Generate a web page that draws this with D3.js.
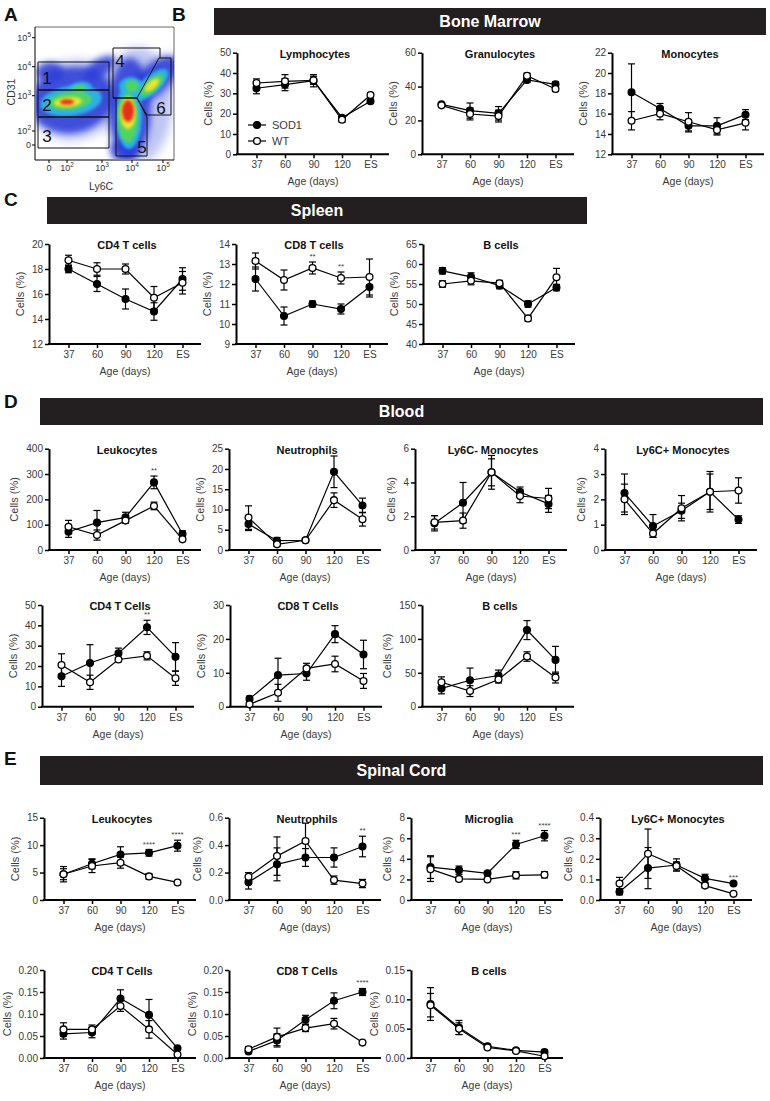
<!DOCTYPE html>
<html><head><meta charset="utf-8">
<script src="https://cdn.jsdelivr.net/npm/d3@7"></script>
<style>body{margin:0;background:#fff;} svg{display:block;font-family:"Liberation Sans",Arial,Helvetica,sans-serif;}</style>
</head><body><svg id="fig" width="770" height="1101"></svg>
<script>
const ages = ["37","60","90","120","ES"];
const groups = ["SOD1","WT"];

// ---- B: Bone marrow ----
const bmLymSod1 = [32.5,34.3,36.2,18.0,26.1], bmLymSod1Err = [2.7,3.0,3.0,1.0,1.0];
const bmLymWt   = [35.1,35.9,36.4,17.0,29.2], bmLymWtErr   = [2.0,3.3,2.0,1.2,1.0];
const bmGraSod1 = [29.5,25.8,24.2,43.9,41.3], bmGraSod1Err = [1.0,4.5,4.0,1.5,1.5];
const bmGraWt   = [28.9,23.8,22.6,46.4,38.6], bmGraWtErr   = [1.0,3.5,3.5,1.5,1.5];
const bmMonSod1 = [18.1,16.5,14.8,14.8,15.9], bmMonSod1Err = [2.8,0.5,0.6,0.8,0.5];
const bmMonWt   = [15.3,16.0,15.2,14.4,15.1], bmMonWtErr   = [0.9,0.6,0.9,0.5,0.7];
// ---- C: Spleen ----
const spCd4Sod1 = [18.0,16.8,15.6,14.6,17.2], spCd4Sod1Err = [0.3,0.6,0.8,0.7,0.9];
const spCd4Wt   = [18.7,18.0,18.0,15.7,16.9], spCd4WtErr   = [0.4,0.5,0.4,0.9,0.9];
const spCd8Sod1 = [12.25,10.4,11.0,10.75,11.85], spCd8Sod1Err = [0.6,0.45,0.15,0.25,0.5];
const spCd8Wt   = [13.15,12.2,12.8,12.3,12.35], spCd8WtErr   = [0.4,0.5,0.3,0.3,0.9];
const spBSod1   = [58.3,56.8,54.6,50.0,54.1], spBSod1Err = [0.8,1.0,0.8,0.8,0.8];
const spBWt     = [55.0,55.8,55.2,46.4,56.7], spBWtErr   = [0.8,1.0,0.7,0.7,2.2];
// ---- D: Blood ----
const blLeuSod1 = [72,108,129,267,63], blLeuSod1Err = [22,48,20,25,13];
const blLeuWt   = [92,59,116,174,42],  blLeuWtErr   = [25,20,10,15,5];
const blNeuSod1 = [6.4,2.3,2.4,19.3,11.0], blNeuSod1Err = [1.6,0.8,0.3,3.9,1.8];
const blNeuWt   = [8.0,1.4,2.4,12.3,7.6],  blNeuWtErr   = [2.9,0.5,0.3,1.8,1.7];
const blMonNSod1 = [1.58,2.8,4.6,3.43,2.73], blMonNSod1Err = [0.45,1.2,1.0,0.3,0.5];
const blMonNWt   = [1.64,1.74,4.6,3.2,3.05], blMonNWtErr   = [0.4,0.45,0.8,0.4,0.6];
const blMonPSod1 = [2.25,0.95,1.55,2.3,1.2], blMonPSod1Err = [0.75,0.45,0.3,0.8,0.15];
const blMonPWt   = [2.0,0.65,1.65,2.3,2.35], blMonPWtErr   = [0.6,0.15,0.5,0.7,0.5];
const blCd4Sod1 = [15,21.5,26.3,39,24.5], blCd4Sod1Err = [5,9,2.5,3.5,7];
const blCd4Wt   = [20.5,12,23.2,25,14],   blCd4WtErr   = [5.5,3.5,1,2,3.5];
const blCd8Sod1 = [2.3,9.3,9.8,21.4,15.4], blCd8Sod1Err = [0.8,5,2,2.5,4.2];
const blCd8Wt   = [0.7,4.1,11.3,12.6,7.6], blCd8WtErr   = [0.5,2.5,1.5,2.3,2.2];
const blBSod1   = [27,39,46,113,69], blBSod1Err = [8,18,8,14,20];
const blBWt     = [36,23,40,74,43],  blBWtErr   = [8,8,5,7,8];
// ---- E: Spinal cord ----
const scLeuSod1 = [4.7,6.6,8.3,8.6,9.9], scLeuSod1Err = [1.4,0.9,1.4,0.6,1.0];
const scLeuWt   = [4.7,6.2,6.8,4.3,3.2], scLeuWtErr   = [1.0,1.2,1.0,0.5,0.2];
const scNeuSod1 = [0.13,0.26,0.31,0.31,0.39], scNeuSod1Err = [0.05,0.12,0.065,0.07,0.075];
const scNeuWt   = [0.17,0.32,0.43,0.145,0.12], scNeuWtErr  = [0.03,0.14,0.13,0.03,0.03];
const scMicSod1 = [3.2,2.9,2.6,5.4,6.25], scMicSod1Err = [1.1,0.4,0.15,0.4,0.5];
const scMicWt   = [3.0,2.05,2.0,2.4,2.45], scMicWtErr  = [1.2,0.2,0.1,0.35,0.3];
const scMonSod1 = [0.04,0.155,0.17,0.105,0.08], scMonSod1Err = [0.015,0.1,0.03,0.02,0.005];
const scMonWt   = [0.08,0.225,0.165,0.07,0.03], scMonWtErr   = [0.03,0.12,0.02,0.01,0.003];
const scCd4Sod1 = [0.055,0.058,0.135,0.098,0.022], scCd4Sod1Err = [0.012,0.012,0.02,0.035,0.003];
const scCd4Wt   = [0.065,0.065,0.118,0.065,0.008], scCd4WtErr   = [0.015,0.01,0.012,0.02,0.002];
const scCd8Sod1 = [0.015,0.04,0.087,0.13,0.15], scCd8Sod1Err = [0.005,0.015,0.01,0.018,0.008];
const scCd8Wt   = [0.02,0.048,0.068,0.078,0.035], scCd8WtErr  = [0.006,0.02,0.008,0.012,0.003];
const scBSod1   = [0.092,0.052,0.02,0.013,0.01], scBSod1Err = [0.028,0.012,0.003,0.002,0.004];
const scBWt     = [0.09,0.05,0.018,0.012,0.003], scBWtErr   = [0.02,0.01,0.002,0.002,0.001];

// significance marks: [age, stars]
const spCd8Stars = [["90","**"],["120","**"]];
const blLeuStars = [["120","**"]];
const blCd4Stars = [["120","**"]];
const scLeuStars = [["120","****"],["ES","****"]];
const scNeuStars = [["ES","**"]];
const scMicStars = [["120","***"],["ES","****"]];
const scMonStars = [["ES","***"]];
const scCd8Stars = [["ES","****"]];

// tick values
const tk = {
  bmLym:[0,10,20,30,40,50], bmGra:[0,20,40,60], bmMon:[12,14,16,18,20,22],
  spCd4:[12,14,16,18,20], spCd8:[9,10,11,12,13,14], spB:[40,45,50,55,60,65],
  blLeu:[0,100,200,300,400], blNeu:[0,5,10,15,20,25], blMonN:[0,2,4,6], blMonP:[0,1,2,3,4],
  blCd4:[0,10,20,30,40,50], blCd8:[0,10,20,30], blB:[0,50,100,150],
  scLeu:[0,5,10,15], scNeu:[0,0.2,0.4,0.6], scMic:[0,2,4,6,8], scMon:[0,0.1,0.2,0.3,0.4],
  scCd4:[0,0.05,0.1,0.15,0.2], scCd8:[0,0.05,0.1,0.15,0.2], scB:[0,0.05,0.1,0.15]
};

const svg = d3.select("#fig");
const FONT = '"Liberation Sans",Arial,Helvetica,sans-serif';

function panel(p){
  const W = 152;
  const g = svg.append("g");
  const x = d3.scalePoint().domain(ages).range([p.ax+19.5, p.ax+133.5]);
  const y = d3.scaleLinear().domain([p.ticks[0], p.ticks[p.ticks.length-1]]).range([p.bottom, p.top]);
  const ya = g.append("g").attr("transform",`translate(${p.ax},0)`)
    .call(d3.axisLeft(y).tickValues(p.ticks).tickSize(4).tickSizeOuter(0).tickPadding(2).tickFormat(p.fmt || d3.format("")));
  ya.select(".domain").attr("stroke","#000").attr("stroke-width",2);
  ya.selectAll(".tick line").attr("stroke","#000").attr("stroke-width",1.5);
  ya.selectAll(".tick text").attr("font-family",FONT).attr("font-size",10).attr("fill","#3a3a3a");
  let maxW = 0; ya.selectAll(".tick text").each(function(){ maxW = Math.max(maxW, this.getComputedTextLength()); });
  const xa = g.append("g").attr("transform",`translate(0,${p.bottom})`)
    .call(d3.axisBottom(x).tickSize(4).tickSizeOuter(0).tickPadding(3));
  xa.select(".domain").remove();
  xa.selectAll(".tick line").attr("stroke","#000").attr("stroke-width",1.5);
  xa.selectAll(".tick text").attr("font-family",FONT).attr("font-size",10).attr("fill","#3a3a3a");
  g.append("line").attr("x1",p.ax-1).attr("x2",p.ax+W).attr("y1",p.bottom).attr("y2",p.bottom).attr("stroke","#000").attr("stroke-width",2);
  g.append("text").attr("x",p.ax+76).attr("y",p.bottom+31).attr("text-anchor","middle")
    .attr("font-size",10.5).attr("fill","#3a3a3a").text("Age (days)");
  const ly = (p.top+p.bottom)/2, lx = p.ax - maxW - 14;
  g.append("text").attr("transform",`translate(${lx},${ly}) rotate(-90)`).attr("text-anchor","middle")
    .attr("font-size",11).attr("fill","#3a3a3a").text("Cells (%)");
  g.append("text").attr("x",p.ax+78).attr("y",p.top+5).attr("text-anchor","middle")
    .attr("font-size",11).attr("font-weight","bold").attr("fill","#111").text(p.title);
  const series = [
    {name:"SOD1", v:p.sod1, e:p.sod1Err, fill:"#000"},
    {name:"WT", v:p.wt, e:p.wtErr, fill:"#fff"}
  ];
  const line = d3.line().x(d=>x(d.a)).y(d=>y(d.v));
  series.forEach(s=>{
    const pts = ages.map((a,i)=>({a, v:s.v[i], e:s.e[i]}));
    const sg = g.append("g");
    sg.selectAll("line.err").data(pts).join("line").attr("class","err")
      .attr("x1",d=>x(d.a)).attr("x2",d=>x(d.a)).attr("y1",d=>y(d.v-d.e)).attr("y2",d=>y(d.v+d.e))
      .attr("stroke","#000").attr("stroke-width",1.2);
    ["lo","hi"].forEach(k=>{
      sg.selectAll("line.cap"+k).data(pts).join("line").attr("class","cap"+k)
        .attr("x1",d=>x(d.a)-3.5).attr("x2",d=>x(d.a)+3.5)
        .attr("y1",d=>y(k==="lo"?d.v-d.e:d.v+d.e)).attr("y2",d=>y(k==="lo"?d.v-d.e:d.v+d.e))
        .attr("stroke","#000").attr("stroke-width",1.2);
    });
    sg.append("path").datum(pts).attr("d",line).attr("fill","none").attr("stroke","#000").attr("stroke-width",1.2);
    s.pts = pts; s.g = sg;
  });
  series.forEach(s=>{
    s.g.selectAll("circle").data(s.pts).join("circle").attr("cx",d=>x(d.a)).attr("cy",d=>y(d.v))
      .attr("r",3.4).attr("fill",s.fill).attr("stroke","#000").attr("stroke-width",1.3);
  });
  (p.stars||[]).forEach(([a,st])=>{
    const i = ages.indexOf(a);
    const topV = Math.max(p.sod1[i]+p.sod1Err[i], p.wt[i]+p.wtErr[i]);
    g.append("text").attr("x",x(a)).attr("y",y(topV)-3).attr("text-anchor","middle")
      .attr("font-size",8).attr("fill","#444").text(st);
  });
  if(p.legend){
    const lx0 = p.legend[0], ly0 = p.legend[1];
    series.forEach((s,i)=>{
      const yy = ly0 + i*16;
      g.append("line").attr("x1",lx0-9).attr("x2",lx0+9).attr("y1",yy).attr("y2",yy).attr("stroke","#000").attr("stroke-width",1.2);
      g.append("circle").attr("cx",lx0).attr("cy",yy).attr("r",3.4).attr("fill",s.fill).attr("stroke","#000").attr("stroke-width",1.3);
      g.append("text").attr("x",lx0+15).attr("y",yy+4).attr("font-size",11).attr("fill","#3a3a3a").text(groups[i]);
    });
  }
}

function header(x0,x1,y0,y1,label){
  svg.append("rect").attr("x",x0).attr("y",y0).attr("width",x1-x0).attr("height",y1-y0).attr("fill","#231f20");
  svg.append("text").attr("x",(x0+x1)/2).attr("y",(y0+y1)/2+5.5).attr("text-anchor","middle")
    .attr("font-size",16).attr("font-weight","bold").attr("fill","#fff").text(label);
}
function letter(x,y,t){
  svg.append("text").attr("x",x).attr("y",y).attr("font-size",19).attr("font-weight","bold").attr("fill","#111").text(t);
}

// ---------- Panel A: flow cytometry density plot ----------
(function(){
  const defs = svg.append("defs");
  defs.append("filter").attr("id","blur0").attr("x","-50%").attr("y","-50%").attr("width","200%").attr("height","200%")
    .append("feGaussianBlur").attr("stdDeviation",5);
  defs.append("filter").attr("id","blur1").attr("x","-50%").attr("y","-50%").attr("width","200%").attr("height","200%")
    .append("feGaussianBlur").attr("stdDeviation",3);
  defs.append("filter").attr("id","blur2").attr("x","-50%").attr("y","-50%").attr("width","200%").attr("height","200%")
    .append("feGaussianBlur").attr("stdDeviation",1.6);
  defs.append("clipPath").attr("id","flowclip").append("rect").attr("x",36).attr("y",28).attr("width",138).attr("height",131);
  const L = 35, R = 174, T = 27, B = 160;
  const gA = svg.append("g");
  const dens = gA.append("g").attr("clip-path","url(#flowclip)");
  // density contours: [cx, cy, rx, ry, rot, level]
  const densityBlobs = [
    [74,100,46,40,-15,-1],[138,105,34,58,0,-1],[158,78,28,18,-40,-1],
    [72,100,42,33,-12,0],[100,68,18,9,-35,0],[130,108,21,50,0,0],[153,80,32,14,-42,0],[124,150,14,12,0,0],[50,72,14,10,0,0],
    [71,101,31,15,-8,1],[129,116,13,33,0,1],[151,85,22,9,-42,1],[131,86,12,9,0,1],[80,89,12,7,-10,1],
    [70,101,22,9,-6,2],[128,118,10,25,0,2],[152,85,15,6,-42,2],[132,86,7,6,0,2],[79,89,7,4,-10,2],
    [68,102,14,5,-5,3],[128,113,8,16,0,3],[152,85,9,4,-42,3],
    [67,102,7,2.8,0,4],[128,111,6,11,0,4]
  ];
  const jet = ["#2a3bd6","#29b6e8","#52d65a","#f4e52a","#e5261a"];
  dens.selectAll("ellipse").data(densityBlobs).join("ellipse")
    .attr("transform",d=>`translate(${d[0]},${d[1]}) rotate(${d[4]})`)
    .attr("rx",d=>d[2]).attr("ry",d=>d[3]).attr("fill",d=>d[5]<0?"#6f7fe6":jet[d[5]])
    .attr("opacity",d=>d[5]<0?0.45:(d[5]===0?0.85:0.95))
    .attr("filter",d=>d[5]<0?"url(#blur0)":(d[5]===0?"url(#blur1)":"url(#blur2)"));
  gA.append("line").attr("x1",L).attr("x2",L).attr("y1",T).attr("y2",B).attr("stroke","#000").attr("stroke-width",1);
  gA.append("line").attr("x1",L).attr("x2",R).attr("y1",B).attr("y2",B).attr("stroke","#000").attr("stroke-width",1);
  gA.append("line").attr("x1",R).attr("x2",R).attr("y1",T).attr("y2",B).attr("stroke","#000").attr("stroke-width",0.6);
  gA.append("line").attr("x1",L).attr("x2",R).attr("y1",T).attr("y2",T).attr("stroke","#000").attr("stroke-width",0.6);
  const flowYTicks = ["0","2","3","4","5"], flowXTicks = ["0","2","3","4","5"];
  const fy = d3.scaleOrdinal().domain(flowYTicks).range([145,131,95.7,66.7,37.7]);
  const fx = d3.scaleOrdinal().domain(flowXTicks).range([49,67,102,132,163]);
  flowYTicks.forEach(t=>{
    gA.append("line").attr("x1",L-3).attr("x2",L).attr("y1",fy(t)).attr("y2",fy(t)).attr("stroke","#000");
    const tx = gA.append("text").attr("x",L-4).attr("y",fy(t)+3).attr("text-anchor","end").attr("font-size",9).attr("fill","#333");
    if(t==="0") tx.text("0"); else { tx.text("10"); tx.append("tspan").attr("dy",-4).attr("font-size",6.5).text(t); }
  });
  flowXTicks.forEach(t=>{
    gA.append("line").attr("x1",fx(t)).attr("x2",fx(t)).attr("y1",B).attr("y2",B+3).attr("stroke","#000");
    const tx = gA.append("text").attr("x",fx(t)).attr("y",B+11).attr("text-anchor","middle").attr("font-size",9).attr("fill","#333");
    if(t==="0") tx.text("0"); else { tx.text("10"); tx.append("tspan").attr("dy",-4).attr("font-size",6.5).text(t); }
  });
  gA.append("text").attr("transform","translate(15,92) rotate(-90)").attr("text-anchor","middle").attr("font-size",10.5).attr("fill","#333").text("CD31");
  gA.append("text").attr("x",101).attr("y",190).attr("text-anchor","middle").attr("font-size",10.5).attr("fill","#333").text("Ly6C");
  const gates = [
    "M38,62H109V90H38Z", "M38,90H109V117H38Z", "M38,117H109V148H38Z",
    "M113,48H160V58 M113,48V98H137",
    "M113,98H137L147,117V156H116V98",
    "M137,98L159,58H171V115H147Z"
  ];
  gA.selectAll("path.gate").data(gates).join("path").attr("class","gate").attr("d",d=>d)
    .attr("fill","none").attr("stroke","#111").attr("stroke-width",1);
  const gateLabels = [["1",47,84],["2",47,111],["3",47,142],["4",120,67],["5",142,153],["6",161,114]];
  gA.selectAll("text.gl").data(gateLabels).join("text").attr("class","gl").attr("x",d=>d[1]).attr("y",d=>d[2])
    .attr("text-anchor","middle").attr("font-size",17).attr("fill","#111").text(d=>d[0]);
})();

letter(4,21,"A");
letter(172,21,"B");
letter(4,206,"C");
letter(4,408,"D");
letter(4,765,"E");
header(214,766,8,35,"Bone Marrow");
header(47,587,197,224,"Spleen");
header(40,763,398,425,"Blood");
header(40,763,756,785,"Spinal Cord");

const rowSc1 = {top:817.7, bottom:900}, rowSc2 = {top:970, bottom:1058};
const panels = [
  {ax:237,top:52.7,bottom:154.3,title:"Lymphocytes",ticks:tk.bmLym,sod1:bmLymSod1,sod1Err:bmLymSod1Err,wt:bmLymWt,wtErr:bmLymWtErr,legend:[257,125]},
  {ax:422,top:52.7,bottom:154.3,title:"Granulocytes",ticks:tk.bmGra,sod1:bmGraSod1,sod1Err:bmGraSod1Err,wt:bmGraWt,wtErr:bmGraWtErr},
  {ax:612,top:52.7,bottom:154.3,title:"Monocytes",ticks:tk.bmMon,sod1:bmMonSod1,sod1Err:bmMonSod1Err,wt:bmMonWt,wtErr:bmMonWtErr},
  {ax:49,top:244,bottom:344,title:"CD4 T cells",ticks:tk.spCd4,sod1:spCd4Sod1,sod1Err:spCd4Sod1Err,wt:spCd4Wt,wtErr:spCd4WtErr},
  {ax:236,top:244,bottom:344,title:"CD8 T cells",ticks:tk.spCd8,sod1:spCd8Sod1,sod1Err:spCd8Sod1Err,wt:spCd8Wt,wtErr:spCd8WtErr,stars:spCd8Stars},
  {ax:423,top:244,bottom:344,title:"B cells",ticks:tk.spB,sod1:spBSod1,sod1Err:spBSod1Err,wt:spBWt,wtErr:spBWtErr},
  {ax:49,top:448.7,bottom:550,title:"Leukocytes",ticks:tk.blLeu,sod1:blLeuSod1,sod1Err:blLeuSod1Err,wt:blLeuWt,wtErr:blLeuWtErr,stars:blLeuStars},
  {ax:229,top:448.7,bottom:550,title:"Neutrophils",ticks:tk.blNeu,sod1:blNeuSod1,sod1Err:blNeuSod1Err,wt:blNeuWt,wtErr:blNeuWtErr},
  {ax:415,top:448.7,bottom:550,title:"Ly6C- Monocytes",ticks:tk.blMonN,sod1:blMonNSod1,sod1Err:blMonNSod1Err,wt:blMonNWt,wtErr:blMonNWtErr},
  {ax:605,top:448.7,bottom:550,title:"Ly6C+ Monocytes",ticks:tk.blMonP,sod1:blMonPSod1,sod1Err:blMonPSod1Err,wt:blMonPWt,wtErr:blMonPWtErr},
  {ax:42,top:605,bottom:706.7,title:"CD4 T Cells",ticks:tk.blCd4,sod1:blCd4Sod1,sod1Err:blCd4Sod1Err,wt:blCd4Wt,wtErr:blCd4WtErr,stars:blCd4Stars},
  {ax:230,top:605,bottom:706.7,title:"CD8 T Cells",ticks:tk.blCd8,sod1:blCd8Sod1,sod1Err:blCd8Sod1Err,wt:blCd8Wt,wtErr:blCd8WtErr},
  {ax:422,top:605,bottom:706.7,title:"B cells",ticks:tk.blB,sod1:blBSod1,sod1Err:blBSod1Err,wt:blBWt,wtErr:blBWtErr},
  {ax:44,...rowSc1,title:"Leukocytes",ticks:tk.scLeu,sod1:scLeuSod1,sod1Err:scLeuSod1Err,wt:scLeuWt,wtErr:scLeuWtErr,stars:scLeuStars},
  {ax:229,...rowSc1,title:"Neutrophils",ticks:tk.scNeu,fmt:d3.format(".1f"),sod1:scNeuSod1,sod1Err:scNeuSod1Err,wt:scNeuWt,wtErr:scNeuWtErr,stars:scNeuStars},
  {ax:411,...rowSc1,title:"Microglia",ticks:tk.scMic,sod1:scMicSod1,sod1Err:scMicSod1Err,wt:scMicWt,wtErr:scMicWtErr,stars:scMicStars},
  {ax:600,...rowSc1,title:"Ly6C+ Monocytes",ticks:tk.scMon,fmt:d3.format(".1f"),sod1:scMonSod1,sod1Err:scMonSod1Err,wt:scMonWt,wtErr:scMonWtErr,stars:scMonStars},
  {ax:44,...rowSc2,title:"CD4 T Cells",ticks:tk.scCd4,fmt:d3.format(".2f"),sod1:scCd4Sod1,sod1Err:scCd4Sod1Err,wt:scCd4Wt,wtErr:scCd4WtErr},
  {ax:229,...rowSc2,title:"CD8 T Cells",ticks:tk.scCd8,fmt:d3.format(".2f"),sod1:scCd8Sod1,sod1Err:scCd8Sod1Err,wt:scCd8Wt,wtErr:scCd8WtErr,stars:scCd8Stars},
  {ax:411,...rowSc2,title:"B cells",ticks:tk.scB,fmt:d3.format(".2f"),sod1:scBSod1,sod1Err:scBSod1Err,wt:scBWt,wtErr:scBWtErr}
];
panels.forEach(panel);
</script></body></html>
